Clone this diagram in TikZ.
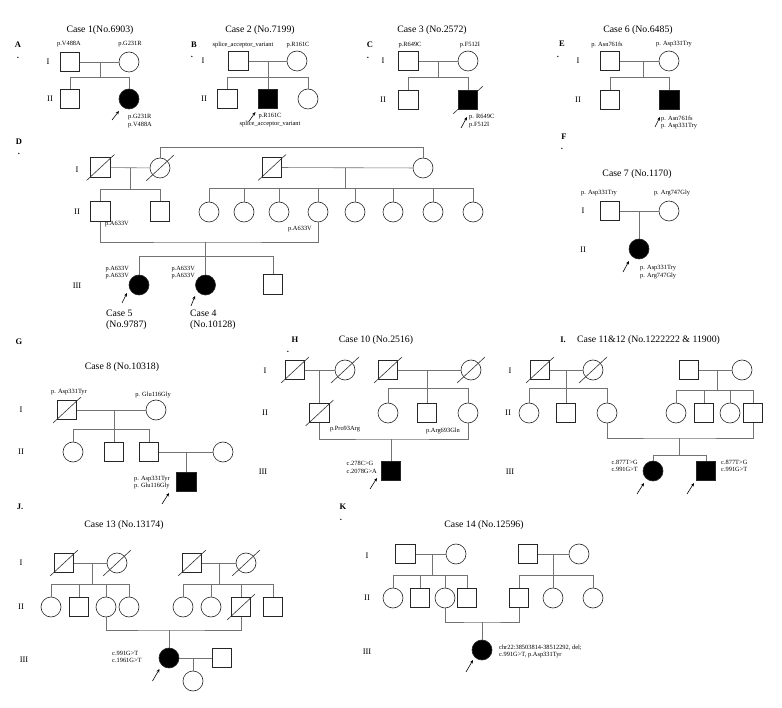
\documentclass[tikz,border=0pt]{standalone}
\usepackage{fontspec}
\setmainfont{Liberation Serif}
\usetikzlibrary{arrows.meta}
\pgfdeclarelayer{bg}
\pgfsetlayers{bg,main}
\newcommand\dslash[1]{\draw[dead] ([shift={(-14,13)}]#1.center) -- ([shift={(14,-13)}]#1.center);}
\newcommand\parrow[5]{\draw[prob] ([shift={(#2,#3)}]#1.center) -- ([shift={(#4,#5)}]#1.center);}
\begin{document}
\begin{tikzpicture}[x=1pt,y=-1pt,
  sq/.style={draw=black!85,line width=0.6pt,minimum size=19.5pt,inner sep=0pt,fill=white},
  ci/.style={circle,draw=black!85,line width=0.6pt,minimum size=20pt,inner sep=0pt,fill=white},
  aff/.style={fill=black},
  conn/.style={draw=black!55,line width=0.6pt},
  dead/.style={draw=black!80,line width=0.6pt},
  ttl/.style={font=\fontsize{9.8}{11}\selectfont,inner sep=0pt},
  gen/.style={font=\fontsize{8.5}{9}\selectfont,inner sep=0pt},
  pl/.style={font=\bfseries\fontsize{8.5}{9}\selectfont,inner sep=0pt},
  mut/.style={font=\fontsize{6.4}{7.6}\selectfont,inner sep=0pt,align=left},
  mutt/.style={font=\fontsize{6.3}{6.7}\selectfont,inner sep=0pt,align=left},
  prob/.style={-{Stealth[length=3.5pt,width=3pt]},line width=0.6pt,black},
]
\begin{pgfonlayer}{bg}
\fill[white] (0,0) rectangle (782,708);
\end{pgfonlayer}
\useasboundingbox (0,0) rectangle (782,708);

% ================= A : Case 1
\node[pl] (A) at (18,45) {A};
\node[pl] (Adot) at (18,58) {.};
\node[ttl] (T1) at (100,30) {Case 1(No.6903)};
\node[gen] (A-I) at (48,62) {I};
\node[gen] (A-II) at (50,99) {II};
\node[sq] (a1) at (70,62) {};
\node[ci] (a2) at (129,62) {};
\node[sq] (a3) at (70,99) {};
\node[ci,aff] (a4) at (129,99) {};
\coordinate (am) at (100,62);
\coordinate (aj) at (100,77);
\draw[conn] (a1) -- (a2);
\draw[conn] (am) -- (aj);
\draw[conn] (aj) -| (a3.north);
\draw[conn] (aj) -| (a4.north);
\node[mut] (a1l) at (69,44) {p.V488A};
\node[mut] (a2l) at (130,44) {p.G231R};
\node[mut,anchor=west] (a4l) at (128,121) {p.G231R\\p.V488A};
\parrow{a4}{-17}{21}{-10}{12}

% ================= B : Case 2
\node[pl] (B) at (194,45) {B};
\node[pl] (Bdot) at (192,57) {.};
\node[ttl] (T2) at (260,30) {Case 2 (No.7199)};
\node[gen] (B-I) at (203,61) {I};
\node[gen] (B-II) at (204,99) {II};
\node[sq] (b1) at (238.5,61) {};
\node[ci] (b2) at (297,61) {};
\node[sq] (b3) at (227.5,99) {};
\node[sq,aff] (b4) at (268,99) {};
\node[ci] (b5) at (308,99) {};
\coordinate (bm) at (268,61);
\coordinate (bj) at (268,77);
\draw[conn] (b1) -- (b2);
\draw[conn] (bm) -- (b4.north);
\draw[conn] (bj) -| (b3.north);
\draw[conn] (bj) -| (b5.north);
\node[mut] (b1l) at (243,45) {splice\_acceptor\_variant};
\node[mut] (b2l) at (298,45) {p.R161C};
\node[mut,align=center] (b4l) at (270,120) {p.R161C\\splice\_acceptor\_variant};
\parrow{b4}{-19.5}{23}{-12.5}{13}

% ================= C : Case 3
\node[pl] (C) at (370,45) {C};
\node[pl] (Cdot) at (368,58) {.};
\node[ttl] (T3) at (432,30) {Case 3 (No.2572)};
\node[gen] (C-I) at (383,61) {I};
\node[gen] (C-II) at (383,100) {II};
\node[sq] (c1) at (408.5,61) {};
\node[ci] (c2) at (468,61) {};
\node[sq] (c3) at (408.5,100) {};
\node[sq,aff] (c4) at (468,100) {};
\begin{pgfonlayer}{bg}
\draw[dead] ([shift={(-15,14)}]c4.center) -- ([shift={(15,-14)}]c4.center);
\end{pgfonlayer}
\coordinate (cm) at (438,61);
\coordinate (cj) at (438,77);
\draw[conn] (c1) -- (c2);
\draw[conn] (cm) -- (cj);
\draw[conn] (cj) -| (c3.north);
\draw[conn] (cj) -| (c4.north);
\node[mut] (c1l) at (410,45) {p.R649C};
\node[mut] (c2l) at (470,45) {p.F512I};
\node[mut,anchor=west] (c4l) at (469,121) {p. R649C\\p.F512I};
\parrow{c4}{-7}{28}{-1}{17}

% ================= E : Case 6
\node[pl] (E) at (562,44) {E};
\node[pl] (Edot) at (558,57) {.};
\node[ttl] (T6) at (638,30) {Case 6 (No.6485)};
\node[gen] (E-I) at (578,61) {I};
\node[gen] (E-II) at (578,100) {II};
\node[sq] (e1) at (610,61) {};
\node[ci] (e2) at (669,61) {};
\node[sq] (e3) at (610,100) {};
\node[sq,aff] (e4) at (669.5,100) {};
\coordinate (em) at (643,61);
\coordinate (ej) at (643,77);
\draw[conn] (e1) -- (e2);
\draw[conn] (em) -- (ej);
\draw[conn] (ej) -| (e3.north);
\draw[conn] (ej) -| (e4.north);
\node[mut] (e1l) at (607,45) {p. Asn761fs};
\node[mut] (e2l) at (674,44) {p. Asp331Try};
\node[mut,anchor=west] (e4l) at (661,122.5) {p. Asn761fs\\p. Asp331Try};
\parrow{e4}{-14.5}{27}{-9.5}{17}

% ================= D : Cases 4,5
\node[pl] (D) at (19,142) {D};
\node[pl] (Ddot) at (19,154) {.};
\node[gen] (D-I) at (77,170) {I};
\node[gen] (D-II) at (77,212) {II};
\node[gen] (D-III) at (77,286) {III};
\node[sq] (d1) at (100.5,167.5) {};
\node[ci] (d2) at (160,168) {};
\node[sq] (d3) at (272,167.5) {};
\node[ci] (d4) at (423,168) {};
\node[sq] (d5) at (100.5,211.5) {};
\node[sq] (d6) at (160,211.5) {};
\foreach \n/\x in {7/209,8/244,9/279,10/318,11/355,12/393,13/433,14/473}
  \node[ci] (d\n) at (\x,212) {};
\node[ci,aff] (d15) at (139,285) {};
\node[ci,aff] (d16) at (205.5,285) {};
\node[sq] (d17) at (273,284.5) {};
\coordinate (dt) at (423,147);
\coordinate (dm1) at (130,168);
\coordinate (dj1) at (130,189);
\coordinate (dm2) at (345,168);
\coordinate (dj2) at (345,188);
\coordinate (dm3) at (205.5,242);
\coordinate (dj3) at (205.5,256);
\draw[conn] (d2.north) |- (dt) -- (d4.north);
\draw[conn] (d1) -- (d2);
\draw[conn] (dm1) -- (dj1);
\draw[conn] (dj1) -| (d5.north);
\draw[conn] (dj1) -| (d6.north);
\draw[conn] (d3) -- (d4);
\draw[conn] (dm2) -- (dj2);
\foreach \n in {7,...,14} \draw[conn] (dj2) -| (d\n.north);
\draw[conn] (d5.south) |- (dm3) -| (d10.south);
\draw[conn] (dm3) -- (d16.north);
\draw[conn] (dj3) -| (d15.north);
\draw[conn] (dj3) -| (d17.north);
\dslash{d1}\dslash{d2}\dslash{d3}
\node[mut] (d5l) at (117,224) {p.A633V};
\node[mut] (d10l) at (300,229) {p.A633V};
\node[mutt,anchor=east] (d15l) at (129,272.5) {p.A633V\\p.A633V};
\node[mutt,anchor=east] (d16l) at (195,272.5) {p.A633V\\p.A633V};
\parrow{d15}{-17}{18}{-12}{8}
\parrow{d16}{-14.5}{21}{-10.5}{11}
\node[ttl,anchor=west,align=left] (d15c) at (106,319.5) {Case 5\\(No.9787)};
\node[ttl,anchor=west,align=left] (d16c) at (190,319.5) {Case 4\\(No.10128)};

% ================= F : Case 7
\node[pl] (F) at (564,137) {F};
\node[pl] (Fdot) at (562,149) {.};
\node[ttl] (T7) at (637,174) {Case 7 (No.1170)};
\node[gen] (F-I) at (583,211) {I};
\node[gen] (F-II) at (583,250) {II};
\node[sq] (f1) at (610,211) {};
\node[ci] (f2) at (669,211) {};
\node[ci,aff] (f3) at (639,249) {};
\coordinate (fm) at (639,211);
\draw[conn] (f1) -- (f2);
\draw[conn] (fm) -- (f3.north);
\node[mut] (f1l) at (599,193) {p. Asp331Try};
\node[mut] (f2l) at (672,193) {p. Arg747Gly};
\node[mut,anchor=west] (f3l) at (640,272) {p. Asp331Try\\p. Arg747Gly};
\parrow{f3}{-16}{23}{-10}{12}

% ================= G : Case 8
\node[pl] (G) at (19,342) {G};
\node[ttl] (T8) at (122,367) {Case 8 (No.10318)};
\node[gen] (G-I) at (21,410) {I};
\node[gen] (G-II) at (21,452) {II};
\node[sq] (g1) at (67,410) {};
\node[ci] (g2) at (156,410) {};
\node[ci] (g3) at (73,452) {};
\node[sq] (g4) at (114,452) {};
\node[sq] (g5) at (149,452) {};
\node[ci] (g6) at (223,452) {};
\node[sq,aff] (g7) at (186.5,482) {};
\coordinate (gm1) at (114,410);
\coordinate (gj1) at (114,429);
\coordinate (gm2) at (186.5,452);
\draw[conn] (g1) -- (g2);
\draw[conn] (gm1) -- (gj1);
\draw[conn] (gj1) -| (g3.north);
\draw[conn] (gj1) -- (g4.north);
\draw[conn] (gj1) -| (g5.north);
\draw[conn] (g5) -- (g6);
\draw[conn] (gm2) -- (g7.north);
\dslash{g1}
\node[mut] (g1l) at (69,392) {p. Asp331Tyr};
\node[mut] (g2l) at (153,395) {p. Glu116Gly};
\node[mut,anchor=east] (g7l) at (170,482.5) {p. Asp331Tyr\\p. Glu116Gly};
\parrow{g7}{-24.5}{22}{-17.5}{11}

% ================= H : Case 10
\node[pl] (H) at (295,340) {H};
\node[pl] (Hdot) at (288,352) {.};
\node[ttl] (T10) at (376,340) {Case 10 (No.2516)};
\node[gen] (H-I) at (265,371) {I};
\node[gen] (H-II) at (265,413) {II};
\node[gen] (H-III) at (263,472) {III};
\node[sq] (h1) at (295,370) {};
\node[ci] (h2) at (345,370) {};
\node[sq] (h3) at (388,370) {};
\node[ci] (h4) at (471,370) {};
\node[sq] (h5) at (319.5,413) {};
\node[ci] (h6) at (388,413) {};
\node[sq] (h7) at (427,413) {};
\node[ci] (h8) at (468,413) {};
\node[sq,aff] (h9) at (391,471) {};
\coordinate (hm1) at (319.5,370);
\coordinate (hm2) at (427,370);
\coordinate (hj2) at (427,388);
\coordinate (hm3) at (391,439);
\draw[conn] (h1) -- (h2);
\draw[conn] (hm1) -- (h5.north);
\draw[conn] (h3) -- (h4);
\draw[conn] (hm2) -- (hj2);
\draw[conn] (hj2) -| (h6.north);
\draw[conn] (hj2) -- (h7.north);
\draw[conn] (hj2) -| (h8.north);
\draw[conn] (h5.south) |- (hm3) -| (h8.south);
\draw[conn] (hm3) -- (h9.north);
\dslash{h1}\dslash{h2}\dslash{h3}\dslash{h4}\dslash{h5}
\node[mut] (h5l) at (345,429) {p.Pro93Arg};
\node[mut] (h8l) at (443,431) {p.Arg693Gln};
\node[mut,anchor=east] (h9l) at (377,467.5) {c.278C>G\\c.2078G>A};
\parrow{h9}{-21}{18}{-14}{7}

% ================= I : Cases 11 & 12
\node[pl] (Ilet) at (563,340) {I.};
\node[ttl,anchor=west] (T11) at (577,340) {Case 11\&12 (No.1222222 \& 11900)};
\node[gen] (I-I) at (510,371) {I};
\node[gen] (I-II) at (508,413) {II};
\node[gen] (I-III) at (510,472) {III};
\node[sq] (i1) at (540,370) {};
\node[ci] (i2) at (593,370) {};
\node[sq] (i3) at (689,370) {};
\node[ci] (i4) at (742,370) {};
\node[ci] (i5) at (529,413) {};
\node[sq] (i6) at (566,413) {};
\node[ci] (i7) at (607,413) {};
\node[ci] (i8) at (676,413) {};
\node[sq] (i9) at (704,413) {};
\node[ci] (i10) at (730,413) {};
\node[sq] (i11) at (753,413) {};
\node[ci,aff] (i12) at (653,471) {};
\node[sq,aff] (i13) at (706,471) {};
\coordinate (im1) at (566,370);
\coordinate (ij1) at (566,388);
\coordinate (im2) at (717,370);
\coordinate (ij2) at (717,390);
\coordinate (im3) at (679,438);
\coordinate (ij3) at (679,455);
\draw[conn] (i1) -- (i2);
\draw[conn] (im1) -- (ij1);
\draw[conn] (ij1) -| (i5.north);
\draw[conn] (ij1) -- (i6.north);
\draw[conn] (ij1) -| (i7.north);
\draw[conn] (i3) -- (i4);
\draw[conn] (im2) -- (ij2);
\draw[conn] (ij2) -| (i8.north);
\draw[conn] (ij2) -| (i9.north);
\draw[conn] (ij2) -| (i10.north);
\draw[conn] (ij2) -| (i11.north);
\draw[conn] (i7.south) |- (im3) -| (i11.south);
\draw[conn] (im3) -- (ij3);
\draw[conn] (ij3) -| (i12.north);
\draw[conn] (ij3) -| (i13.north);
\dslash{i1}\dslash{i2}
\node[mut,anchor=east] (i12l) at (638,466) {c.877T>G\\c.991G>T};
\node[mut,anchor=west] (i13l) at (721,466) {c.877T>G\\c.991G>T};
\parrow{i12}{-16}{23}{-9}{12}
\parrow{i13}{-19}{23}{-12}{12}

% ================= J : Case 13
\node[pl] (J) at (20,507) {J.};
\node[ttl] (T13) at (124,525) {Case 13 (No.13174)};
\node[gen] (J-I) at (21,563) {I};
\node[gen] (J-II) at (21,607) {II};
\node[gen] (J-III) at (24,660) {III};
\node[sq] (j1) at (64,563) {};
\node[ci] (j2) at (117,563) {};
\node[ci] (j3) at (51,607) {};
\node[sq] (j4) at (79,607) {};
\node[ci] (j5) at (106,607) {};
\node[ci] (j6) at (129,607) {};
\node[sq] (j7) at (192,563) {};
\node[ci] (j8) at (246,563) {};
\node[ci] (j9) at (183,607) {};
\node[ci] (j10) at (211,607) {};
\node[sq] (j11) at (241,607) {};
\node[sq] (j12) at (273,607) {};
\node[ci,aff] (j13) at (169,658) {};
\node[sq] (j14) at (222,658) {};
\node[ci] (j15) at (193,681) {};
\coordinate (jm1) at (92,563);
\coordinate (jj1) at (92,584);
\coordinate (jm2) at (219,563);
\coordinate (jj2) at (219,584);
\coordinate (jm3) at (169,630);
\coordinate (jm4) at (193,658);
\draw[conn] (j1) -- (j2);
\draw[conn] (jm1) -- (jj1);
\foreach \n in {3,4,5,6} \draw[conn] (jj1) -| (j\n.north);
\draw[conn] (j7) -- (j8);
\draw[conn] (jm2) -- (jj2);
\foreach \n in {9,10,11,12} \draw[conn] (jj2) -| (j\n.north);
\draw[conn] (j5.south) |- (jm3) -| (j11.south);
\draw[conn] (jm3) -- (j13.north);
\draw[conn] (j13) -- (j14);
\draw[conn] (jm4) -- (j15.north);
\dslash{j1}\dslash{j2}\dslash{j7}\dslash{j8}\dslash{j11}
\node[mut,anchor=west] (j13l) at (112,657) {c.991G>T\\c.1961G>T};
\parrow{j13}{-16.5}{23}{-9.5}{11}

% ================= K : Case 14
\node[pl] (K) at (343,507) {K};
\node[pl] (Kdot) at (341,520) {.};
\node[ttl] (T14) at (484,525) {Case 14 (No.12596)};
\node[gen] (K-I) at (367,556) {I};
\node[gen] (K-II) at (367,598) {II};
\node[gen] (K-III) at (367,652) {III};
\node[sq] (k1) at (405.5,554) {};
\node[ci] (k2) at (456,554) {};
\node[sq] (k3) at (528,554) {};
\node[ci] (k4) at (579,554) {};
\node[ci] (k5) at (393,598) {};
\node[sq] (k6) at (420,598) {};
\node[ci] (k7) at (445,598) {};
\node[sq] (k8) at (467,598) {};
\node[sq] (k9) at (519,598) {};
\node[ci] (k10) at (553,598) {};
\node[ci] (k11) at (593,598) {};
\node[ci,aff] (k12) at (482,650) {};
\coordinate (km1) at (432,554);
\coordinate (kj1) at (432,575);
\coordinate (km2) at (553,554);
\coordinate (kj2) at (553,575);
\coordinate (km3) at (482,622);
\draw[conn] (k1) -- (k2);
\draw[conn] (km1) -- (kj1);
\foreach \n in {5,6,7,8} \draw[conn] (kj1) -| (k\n.north);
\draw[conn] (k3) -- (k4);
\draw[conn] (km2) -- (kj2);
\foreach \n in {9,10,11} \draw[conn] (kj2) -| (k\n.north);
\draw[conn] (k7.south) |- (km3) -| (k9.south);
\draw[conn] (km3) -- (k12.north);
\node[mut,anchor=west] (k12l) at (499,651.5) {chr22:38503814-38512292, del;\\c.991G>T, p.Asp331Tyr};
\parrow{k12}{-16}{22}{-9}{10}
\end{tikzpicture}
\end{document}
